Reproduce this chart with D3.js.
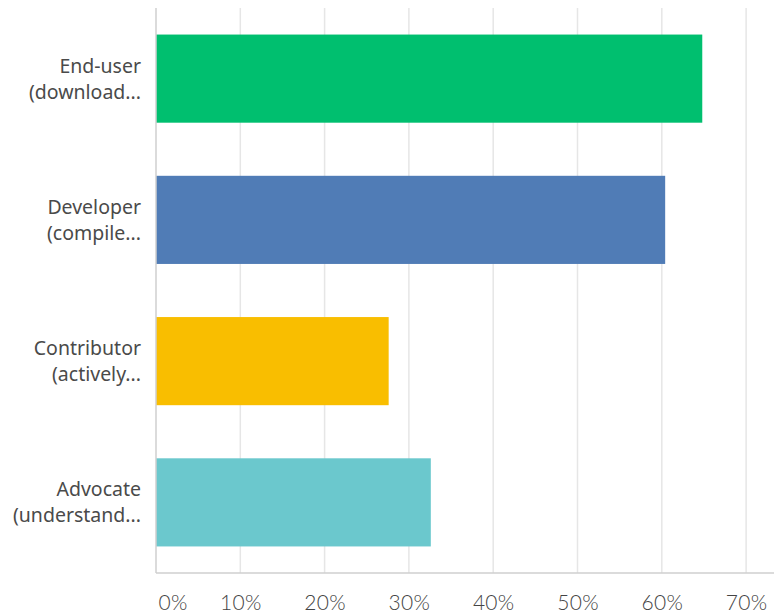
<!DOCTYPE html>
<html>
<head>
<meta charset="utf-8">
<script src="https://cdn.jsdelivr.net/npm/d3@7"></script>
<style>
  body { margin: 0; background: #fff; }
  .cat { font-family: "Noto Sans", sans-serif; font-size: 19.5px; fill: #4a4a4a; }
  .tick text { font-family: Lato, sans-serif; font-weight: 300; font-size: 21px; fill: #444; letter-spacing: 0.3px; }
</style>
</head>
<body>
<div id="chart"></div>
<script>
const categories = ["End-user", "Developer", "Contributor", "Advocate"];
const subLabels = ["(download...", "(compile...", "(actively...", "(understand..."];
const values = [64.8, 60.4, 27.6, 32.6];
const colors = ["#00bf6f", "#507cb6", "#f9be00", "#6bc8cd"];
const tickValues = [0, 10, 20, 30, 40, 50, 60, 70];

const width = 774, height = 613;
const margin = { top: 8, right: 28, bottom: 40, left: 156 };

const svg = d3.select("#chart").append("svg").attr("width", width).attr("height", height);

const x = d3.scaleLinear().domain([0, 70]).range([margin.left, margin.left + 84.3 * 7]);
const y = d3.scaleBand().domain(categories).range([margin.top, height - margin.bottom]).paddingInner(0.376).paddingOuter(0.188);

// gridlines
svg.selectAll(".grid")
  .data(tickValues.slice(1))
  .enter().append("line")
  .attr("x1", d => x(d)).attr("x2", d => x(d))
  .attr("y1", margin.top).attr("y2", height - margin.bottom)
  .attr("stroke", "#e6e6e6").attr("stroke-width", 1.5);

// bars
svg.selectAll(".bar")
  .data(categories)
  .enter().append("rect")
  .attr("x", x(0))
  .attr("y", d => y(d))
  .attr("width", (d, i) => x(values[i]) - x(0))
  .attr("height", y.bandwidth())
  .attr("fill", (d, i) => colors[i]);

// axis lines
svg.append("line")
  .attr("x1", x(0)).attr("x2", x(0))
  .attr("y1", margin.top).attr("y2", height - margin.bottom)
  .attr("stroke", "#cfcfcf").attr("stroke-width", 1.5);
svg.append("line")
  .attr("x1", x(0)).attr("x2", width)
  .attr("y1", height - margin.bottom).attr("y2", height - margin.bottom)
  .attr("stroke", "#cfcfcf").attr("stroke-width", 1.5);

// x tick labels
const xAxis = svg.append("g")
  .attr("transform", `translate(0,${height - margin.bottom})`)
  .call(d3.axisBottom(x).tickValues(tickValues).tickFormat(d => d + "%").tickSize(0).tickPadding(22));
xAxis.select(".domain").remove();
xAxis.selectAll(".tick").filter(d => d === 0).select("text").attr("text-anchor", "start").attr("dx", 2);

// category labels
categories.forEach((c, i) => {
  const cy = y(c) + y.bandwidth() / 2;
  const t = svg.append("text").attr("class", "cat").attr("text-anchor", "end");
  t.append("tspan").attr("x", 141).attr("y", cy - 6).text(c);
  t.append("tspan").attr("x", 141).attr("y", cy + 20).text(subLabels[i]);
});
</script>
</body>
</html>
